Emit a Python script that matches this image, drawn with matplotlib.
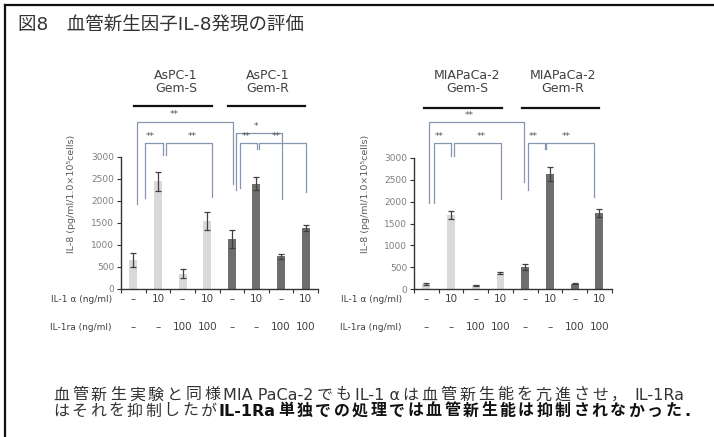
import matplotlib
matplotlib.use("Agg")
import matplotlib.pyplot as plt
from matplotlib.lines import Line2D

plt.rcParams['font.family'] = ['DejaVu Sans', 'Noto Sans CJK JP']

# ---------------- data ----------------
il1a_labels = ["–", "10", "–", "10", "–", "10", "–", "10"]
il1ra_labels = ["–", "–", "100", "100", "–", "–", "100", "100"]
aspc_means = [650, 2450, 350, 1540, 1130, 2390, 740, 1390]
aspc_err = [160, 220, 100, 210, 200, 150, 60, 70]
mia_means = [120, 1690, 90, 380, 510, 2630, 130, 1740]
mia_err = [20, 90, 15, 25, 70, 150, 15, 100]
groups_left = ["AsPC-1\nGem-S", "AsPC-1\nGem-R"]
groups_right = ["MIAPaCa-2\nGem-S", "MIAPaCa-2\nGem-R"]
yticks = [0, 500, 1000, 1500, 2000, 2500, 3000]

# significance brackets: (x_left, x_right, y_top, y_left_end, y_right_end)
brackets_left = [
    (0.13, 4.03, 3802, 1932, 2386),
    (0.46, 1.22, 3325, 2068, 3045),
    (1.33, 3.21, 3325, 3045, 2091),
    (4.16, 6.03, 3539, 2250, 2039),
    (4.33, 5.03, 3325, 2295, 3175),
    (5.11, 7.02, 3325, 3175, 2211),
]
stars_left = [(1.67, 3955, "**"), (0.68, 3461, "**"), (2.41, 3461, "**"),
              (5.0, 3682, "*"), (4.6, 3461, "**"), (5.82, 3461, "**")]
brackets_right = [
    (0.10, 3.94, 3820, 1960, 2453),
    (0.30, 1.01, 3328, 1967, 3038),
    (1.12, 3.01, 3328, 3038, 2051),
    (4.11, 4.79, 3342, 2263, 3191),
    (4.86, 6.78, 3342, 3191, 2110),
]
stars_right = [(1.72, 3973, "**"), (0.54, 3472, "**"), (2.23, 3472, "**"),
               (4.32, 3472, "**"), (5.67, 3472, "**")]

title_text = "図8　血管新生因子IL-8発現の評価"
line1 = "血管新生実験と同様MIA PaCa-2でもIL-1 αは血管新生能を亢進させ， IL-1Ra"
line2a = "はそれを抑制したが"
line2b = "IL-1Ra単独での処理では血管新生能は抑制されなかった."

light = "#d9d9d9"
dark = "#6e6e6e"
bracket_col = "#8596b0"
tick_col = "#7f7f7f"
text_col = "#404040"

W, H = 714, 437
fig = plt.figure(figsize=(W / 100, H / 100), dpi=100)
fig.patch.set_facecolor("white")
renderer = fig.canvas.get_renderer()


def draw_panel(axrect, means, errs, groups, brackets, stars,
               ylabel_x, rowlabel_x, group_cx, line_spans):
    ax = fig.add_axes(axrect)
    x = list(range(len(means)))
    colors = [light] * 4 + [dark] * 4
    ax.bar(x, means, width=0.32, color=colors, zorder=2)
    ax.errorbar(x, means, yerr=errs, fmt="none", ecolor="#404040",
                elinewidth=0.9, capsize=2.2, capthick=0.9, zorder=3)
    ax.set_xlim(-0.5, 7.5)
    ax.set_ylim(0, 3000)
    for s in ["top", "right"]:
        ax.spines[s].set_visible(False)
    for s in ["left", "bottom"]:
        ax.spines[s].set_color("#333333")
        ax.spines[s].set_linewidth(1.0)
    ax.set_yticks(yticks)
    ax.set_yticklabels([str(v) for v in yticks], fontsize=6.5, color=tick_col)
    ax.tick_params(axis="y", direction="out", length=3, width=0.8, color="#333333", pad=2)
    ax.set_xticks([])
    ax.set_xticks([i - 0.5 for i in range(9)], minor=True)
    ax.tick_params(axis="x", which="minor", direction="out", length=3, width=0.8,
                   color="#333333", labelbottom=False)
    ax.patch.set_alpha(0)

    for (xl, xr, yt, yle, yre) in brackets:
        ax.plot([xl, xl, xr, xr], [yle, yt, yt, yre], color=bracket_col,
                lw=0.9, clip_on=False, zorder=1)
    for (sx, sy, lab) in stars:
        ax.text(sx, sy, lab, ha="center", va="center", fontsize=6.5,
                color="#555555", clip_on=False)

    y1 = 1 - 299 / H
    y2 = 1 - 327 / H
    for i, lab in enumerate(il1a_labels):
        fx = ax.transData.transform((i, 0))[0]
        fig.text(fx / W, y1, lab, ha="center", va="center", fontsize=7.5,
                 color="#404040")
    for i, lab in enumerate(il1ra_labels):
        fx = ax.transData.transform((i, 0))[0]
        fig.text(fx / W, y2, lab, ha="center", va="center", fontsize=7.5,
                 color="#404040")
    fig.text(rowlabel_x / W, y1, "IL-1 α (ng/ml)", ha="right", va="center",
             fontsize=6.5, color="#404040")
    fig.text(rowlabel_x / W, y2, "IL-1ra (ng/ml)", ha="right", va="center",
             fontsize=6.5, color="#404040")

    fig.text(ylabel_x / W, 1 - 194 / H, "IL-8 (pg/ml/1.0×10⁵cells)",
             rotation=90, ha="center", va="center", fontsize=6.8, color="#595959")

    for cx, g in zip(group_cx, groups):
        fig.text(cx / W, 1 - 82 / H, g, ha="center", va="center",
                 fontsize=9, color=text_col, linespacing=1.05)
    for (x0, x1, yy) in line_spans:
        fig.add_artist(Line2D([x0 / W, x1 / W], [1 - yy / H, 1 - yy / H],
                              color="#111111", lw=1.6))
    return ax


draw_panel([121 / W, 1 - 289 / H, 197 / W, 132 / H], aspc_means, aspc_err,
           groups_left, brackets_left, stars_left,
           ylabel_x=72, rowlabel_x=112, group_cx=[176, 268],
           line_spans=[(134, 212, 106), (228, 305, 106)])
draw_panel([414 / W, 1 - 289.3 / H, 197.7 / W, 131.6 / H], mia_means, mia_err,
           groups_right, brackets_right, stars_right,
           ylabel_x=365, rowlabel_x=402, group_cx=[467, 563],
           line_spans=[(424, 502, 107.5), (522, 599, 107.5)])

# title
fig.text(18 / W, 1 - 25 / H, title_text, ha="left", va="center",
         fontsize=13.3, color="#333333")

# border
fig.add_artist(Line2D([5 / W, 5 / W], [0, 1 - 5 / H], color="#111111", lw=1.6))
fig.add_artist(Line2D([5 / W, 1], [1 - 5 / H, 1 - 5 / H], color="#111111", lw=1.6))


def split_units(s):
    """Latin runs stay together; each CJK character is its own unit."""
    units = []
    buf = ""
    for ch in s:
        if ord(ch) < 0x2000:
            buf += ch
        else:
            if buf:
                units.append(buf)
                buf = ""
            units.append(ch)
    if buf:
        units.append(buf)
    return units


def justified(pieces, x0, x1, ypx, fs):
    units = []
    for s, wt, col in pieces:
        for u in split_units(s):
            units.append((u, wt, col))
    arts, widths = [], []
    for u, wt, col in units:
        t = fig.text(0, 1 - ypx / H, u, ha="left", va="center", fontsize=fs,
                     color=col, fontweight=wt)
        arts.append(t)
        w = t.get_window_extent(renderer=renderer).width
        # account for leading/trailing spaces that the extent may trim
        nsp = len(u) - len(u.strip(" "))
        widths.append(w + nsp * fs * 100 / 72 * 0.32)
    extra = (x1 - x0 - sum(widths)) / max(len(units) - 1, 1)
    x = x0
    for t, w, (u, _, _) in zip(arts, widths, units):
        lead = (len(u) - len(u.lstrip(" "))) * fs * 100 / 72 * 0.32
        t.set_text(u.strip(" "))
        t.set_x((x + lead) / W)
        x += w + extra


fs = 11.5
justified([(line1, "normal", "#333333")], 53, 690, 395, fs)
justified([(line2a, "normal", "#333333"), (line2b, "bold", "#111111")], 53, 690, 411, fs)

fig.savefig("out.png", dpi=100)
